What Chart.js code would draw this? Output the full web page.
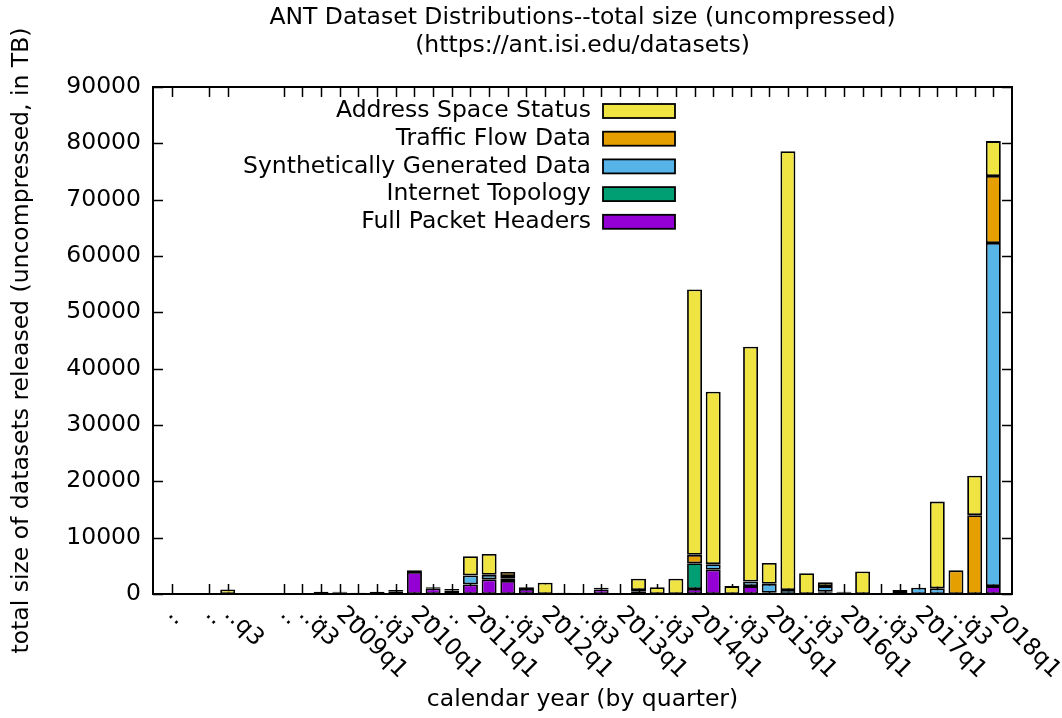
<!DOCTYPE html>
<html>
<head>
<meta charset="utf-8">
<script src="https://cdn.jsdelivr.net/npm/chart.js@4.4.0/dist/chart.umd.min.js"></script>
<style>
  html, body { margin: 0; padding: 0; background: #fff; }
  #wrap { width: 1062px; height: 718px; }
</style>
</head>
<body>
<div id="wrap"><canvas id="antChart" width="1062" height="718"></canvas></div>
<script>
// tick labels, one per quarter slot (gnuplot style)
const quarterLabels = [
  '..', '', '..', '..q3', '', '', '..', '..q3', '..',
  '2009q1', '..', '..q3', '..',
  '2010q1', '..', '..',
  '2011q1', '..', '..q3', '..',
  '2012q1', '..', '..q3', '..',
  '2013q1', '..', '..q3', '..',
  '2014q1', '..', '..q3', '..',
  '2015q1', '..', '..q3', '..',
  '2016q1', '..', '..q3', '..',
  '2017q1', '..', '..q3', '..',
  '2018q1'
];

// values in TB
const fullPacketHeaders = [0,0,0,0,0,0,0,0,0, 0,0,0,500, 3900,1000,0, 1700,2600,2300,900, 0,0,0,800, 0,0,0,0, 900,4300,0,1400, 200,0,0,200, 200,0,0,0, 0,0,0,0, 1400];
const internetTopology  = [0,0,0,0,0,0,0,0,0, 200,200,0,200, 300,200,600, 0,0,400,300, 0,200,0,300, 0,400,0,0, 4550,0,0,0, 0,0,0,200, 200,0,0,100, 0,0,0,0, 0];
const syntheticData     = [0,0,0,0,0,0,0,0,0, 0,0,0,0, 0,0,300, 1600,800,500,0, 0,0,0,0, 0,300,0,0, 0,1000,0,800, 1600,700,0,1000, 0,0,0,600, 1100,1000,0,0, 60900];
const trafficFlow       = [0,0,0,0,0,0,0,0,0, 0,0,0,0, 0,0,0, 0,0,700,0, 0,0,0,0, 0,0,0,0, 1500,0,0,0, 0,0,0,0, 0,0,0,0, 0,0,4200,14000, 11900];
const addressSpace      = [0,0,0,800,0,0,0,0,400, 200,0,400,0, 0,0,0, 3400,3700,0,0, 2000,0,0,0, 0,2000,1200,2700, 47100,30600,1400,41700, 3700,77900,3700,700, 0,4000,0,0, 0,15400,0,7000, 6200];

const FONT = "'DejaVu Sans', sans-serif";
const FSIZE = 23.5;

function toPoints(arr) {
  return arr.map((v, i) => ({ x: i, y: v }));
}

function ds(label, values, color) {
  return {
    label: label,
    data: toPoints(values),
    backgroundColor: color,
    borderColor: '#000',
    borderWidth: 1.8,
    borderSkipped: false,
    categoryPercentage: 1.0,
    barPercentage: 0.8
  };
}

// gnuplot-like frame, inward ticks, rotated labels and legend
const gnuplotLook = {
  id: 'gnuplotLook',
  beforeDatasetsDraw(chart) {
    const { ctx, chartArea: a, scales } = chart;
    ctx.save();
    ctx.strokeStyle = '#000';
    ctx.lineWidth = 1.5;
    ctx.beginPath();
    quarterLabels.forEach((lab, i) => {
      if (!lab) return;
      const x = Math.round(scales.x.getPixelForValue(i)) + 0.5;
      ctx.moveTo(x, a.bottom); ctx.lineTo(x, a.bottom - 10);
      ctx.moveTo(x, a.top); ctx.lineTo(x, a.top + 10);
    });
    scales.y.ticks.forEach(t => {
      const y = Math.round(scales.y.getPixelForValue(t.value)) + 0.5;
      ctx.moveTo(a.left, y); ctx.lineTo(a.left + 10, y);
      ctx.moveTo(a.right, y); ctx.lineTo(a.right - 10, y);
    });
    ctx.stroke();
    ctx.restore();
  },
  afterDatasetsDraw(chart) {
    const { ctx, chartArea: a } = chart;
    ctx.save();
    ctx.strokeStyle = '#000';
    ctx.lineWidth = 2;
    ctx.strokeRect(a.left, a.top, a.right - a.left, a.bottom - a.top);
    ctx.restore();
  },
  afterDraw(chart) {
    const { ctx, chartArea: a, scales } = chart;
    const cx = (a.left + a.right) / 2;
    ctx.save();
    ctx.fillStyle = '#000';
    ctx.font = FSIZE + 'px ' + FONT;
    ctx.textAlign = 'center';
    ctx.textBaseline = 'middle';
    ctx.fillText('ANT Dataset Distributions--total size (uncompressed)', cx, 18);
    ctx.fillText('(https://ant.isi.edu/datasets)', cx, 46);
    ctx.fillText('calendar year (by quarter)', cx, 700);

    ctx.save();
    ctx.translate(22, (a.top + a.bottom) / 2);
    ctx.rotate(-Math.PI / 2);
    ctx.fillText('total size of datasets released (uncompressed, in TB)', 0, 0);
    ctx.restore();

    // rotated x labels
    ctx.textAlign = 'left';
    quarterLabels.forEach((lab, i) => {
      if (!lab) return;
      const x = scales.x.getPixelForValue(i);
      ctx.save();
      ctx.translate(x, a.bottom + 17);
      ctx.rotate(Math.PI / 4);
      ctx.fillText(lab, 0, 0);
      ctx.restore();
    });

    // legend: text right-aligned, then swatch
    const items = chart.data.datasets.slice().reverse();
    items.forEach((d, k) => {
      const y = 111 + k * 27.7;
      ctx.textAlign = 'right';
      ctx.fillStyle = '#000';
      ctx.fillText(d.label, 591, y);
      ctx.fillStyle = d.backgroundColor;
      ctx.fillRect(603, y - 7, 72, 14);
      ctx.strokeStyle = '#000';
      ctx.lineWidth = 1.8;
      ctx.strokeRect(603, y - 7, 72, 14);
    });
    ctx.restore();
  }
};

new Chart(document.getElementById('antChart').getContext('2d'), {
  type: 'bar',
  data: {
    datasets: [
      ds('Full Packet Headers', fullPacketHeaders, '#9400d3'),
      ds('Internet Topology', internetTopology, '#009e73'),
      ds('Synthetically Generated Data', syntheticData, '#56b4e9'),
      ds('Traffic Flow Data', trafficFlow, '#e69f00'),
      ds('Address Space Status', addressSpace, '#f0e442')
    ]
  },
  options: {
    responsive: false,
    animation: false,
    devicePixelRatio: 1,
    layout: { padding: { left: 60, top: 87, right: 50, bottom: 124 } },
    plugins: {
      legend: { display: false },
      title: { display: false },
      tooltip: { enabled: false }
    },
    scales: {
      x: {
        type: 'linear',
        stacked: true,
        min: -1,
        max: 45,
        offset: false,
        grid: { display: false },
        border: { display: false },
        ticks: { display: false },
        afterFit(scale) { scale.height = 0; }
      },
      y: {
        stacked: true,
        min: 0,
        max: 90000,
        grid: { display: false },
        border: { display: false },
        ticks: {
          stepSize: 10000,
          padding: 4,
          color: '#000',
          font: { family: FONT, size: FSIZE },
          callback: v => String(v)
        },
        afterFit(scale) { scale.width = 93; }
      }
    }
  },
  plugins: [gnuplotLook]
});
</script>
</body>
</html>
